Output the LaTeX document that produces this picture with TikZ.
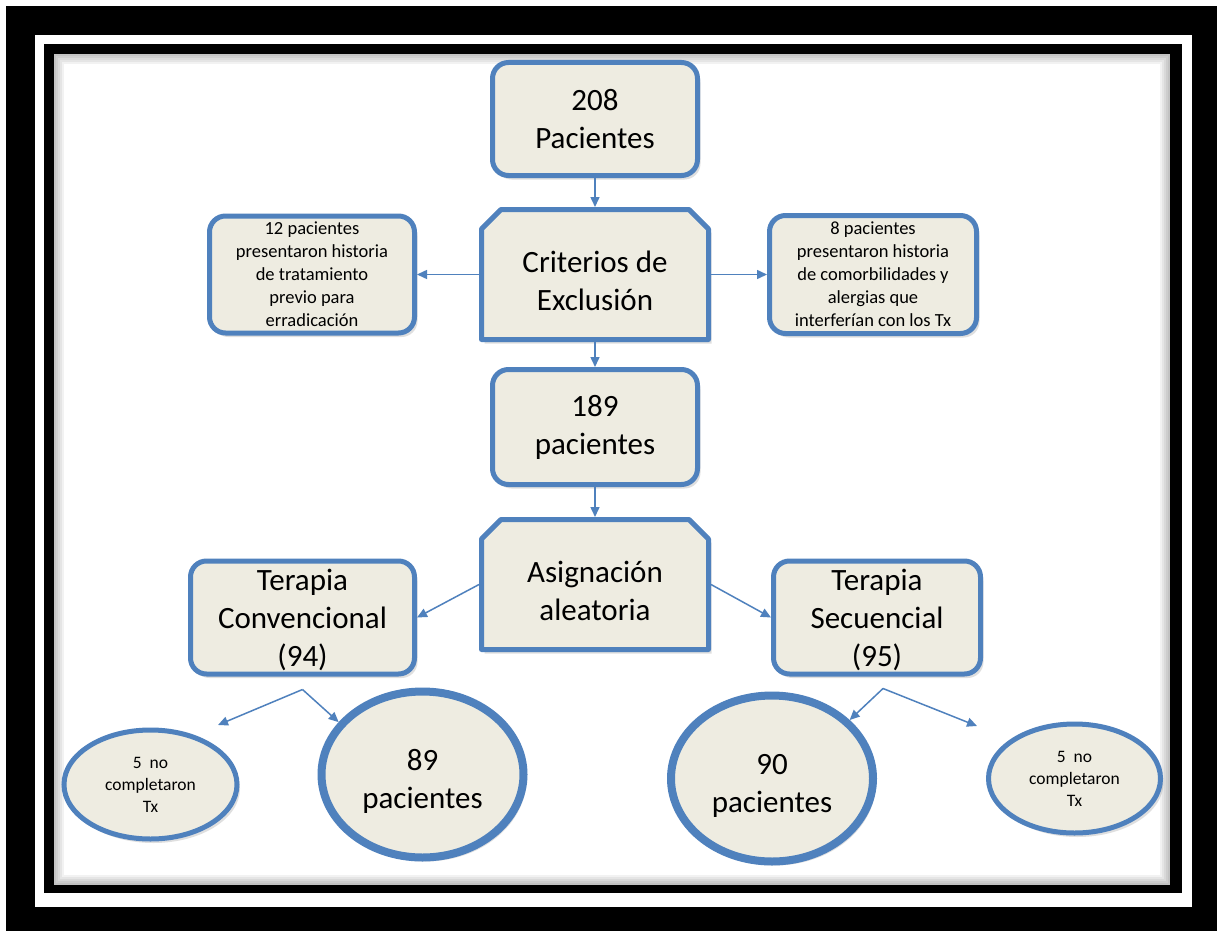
\documentclass[tikz,border=0pt]{standalone}
\usepackage{fontspec}
\setmainfont{Carlito}
\usetikzlibrary{arrows.meta,positioning,shapes.geometric,shadows}
\definecolor{flowblue}{RGB}{79,129,189}
\definecolor{flowcream}{RGB}{238,236,225}
\pgfdeclarelayer{frame}
\pgfdeclarelayer{back}
\pgfsetlayers{frame,back,main}
\tikzset{
  pbox/.style={rectangle, rounded corners=16pt, draw=flowblue, line width=5pt, fill=flowcream,
               align=center, font=\fontsize{31}{38}\selectfont, inner sep=2pt,
               drop shadow={shadow xshift=3pt, shadow yshift=-4pt, opacity=.25}},
  nbox/.style={pbox, font=\fontsize{18.5}{23}\selectfont},
  ctext/.style={rectangle, align=center, font=\fontsize{31}{38}\selectfont, inner sep=2pt,
                outer sep=0pt, minimum width=232pt, minimum height=135pt},
  cline/.style={draw=flowblue, line width=5pt, fill=flowcream, line join=round,
                drop shadow={shadow xshift=3pt, shadow yshift=-4pt, opacity=.25}},
  pell/.style={ellipse, draw=flowblue, line width=8pt, fill=flowcream, align=center,
               font=\fontsize{31}{38}\selectfont, inner sep=1pt,
               drop shadow={shadow xshift=3pt, shadow yshift=-4pt, opacity=.25}},
  sell/.style={pell, line width=5pt, font=\fontsize{17.5}{22}\selectfont},
  farr/.style={-{Triangle[length=10pt,width=9pt]}, line width=1.5pt, flowblue},
}
% snipped top corners round a text node
\newcommand\snipbox[1]{%
  \path[cline] ([shift={(2.5,22)}]#1.north west) -- ([shift={(22,2.5)}]#1.north west)
    -- ([shift={(-22,2.5)}]#1.north east) -- ([shift={(-2.5,22)}]#1.north east)
    -- ([shift={(-2.5,-2.5)}]#1.south east) -- ([shift={(2.5,-2.5)}]#1.south west) -- cycle;}
\begin{document}
\begin{tikzpicture}[x=1pt,y=-1pt]
  \useasboundingbox (0,0) rectangle (1217,931);
  % frame
  \begin{pgfonlayer}{frame}
  \fill[white] (0,0) rectangle (1217,931);
  \fill[black] (6,6) rectangle (1217,931);
  \fill[white] (35,35) rectangle (1192,907);
  \fill[black] (44,44) rectangle (1182,893);
  \fill[white] (54,54) rectangle (1170,885);
  \begin{scope}
    \clip (54,54) rectangle (1170,885);
    \foreach \w in {4,8,12,16,20}{\draw[black,opacity=.05,line width=\w pt] (54,54) rectangle (1170,885);}
  \end{scope}
  \end{pgfonlayer}
  % main column
  \node[pbox,minimum width=205pt,minimum height=113pt] (p208) at (595,119) {208\\Pacientes};
  \node[ctext,below=29pt of p208] (excl) {\rule{0pt}{35pt}Criterios de\\Exclusión};
  \node[nbox,minimum width=205pt,minimum height=117pt,left=62pt of excl] (x12) {12 pacientes\\presentaron historia\\de tratamiento\\previo para\\erradicación};
  \node[nbox,minimum width=207pt,minimum height=118pt,right=56pt of excl] (x8) {8 pacientes\\presentaron historia\\de comorbilidades y\\alergias que\\interferían con los Tx};
  \node[pbox,minimum width=205pt,minimum height=115pt,below=25pt of excl] (p189) {189\\pacientes};
  \node[ctext,below=30pt of p189] (asig) {\rule{0pt}{35pt}Asignación\\aleatoria};
  \node[pbox,minimum width=224pt,minimum height=113pt,left=62pt of asig,yshift=-33pt] (conv) {\rule{0pt}{26pt}Terapia\\Convencional\\(94)};
  \node[pbox,minimum width=207pt,minimum height=113pt,right=60pt of asig,yshift=-33pt] (sec) {\rule{0pt}{26pt}Terapia\\Secuencial\\(95)};
  \begin{pgfonlayer}{back}
    \snipbox{excl}\snipbox{asig}
  \end{pgfonlayer}
  % outcomes
  \node[pell,minimum width=202pt,minimum height=166pt,below=11pt of conv,xshift=120pt] (e89) {\rule{0pt}{34pt}89\\pacientes};
  \node[sell,minimum width=173pt,minimum height=109pt,left=78pt of e89,yshift=-10pt] (e5l) {5\ \ no\\completaron\\Tx};
  \node[pell,minimum width=202pt,minimum height=166pt,below=15pt of sec,xshift=-105pt] (e90) {\rule{0pt}{34pt}90\\pacientes};
  \node[sell,minimum width=172pt,minimum height=109pt,right=109pt of e90] (e5r) {5\ \ no\\completaron\\Tx};
  \coordinate[below=13pt of conv.south] (cs);
  \coordinate[below=12pt of sec.south,xshift=6pt] (ss);
  \coordinate (cstip) at (218,725);
  \coordinate (sstip) at (977,726);
  % connectors
  \draw[farr] (p208)--(excl);\draw[farr] (excl)--(x12);\draw[farr] (excl)--(x8);
  \draw[farr] (excl)--(p189);\draw[farr] (p189)--(asig);
  \draw[farr] (asig.west)--(conv.east);\draw[farr] (asig.east)--(sec.west);
  \draw[farr] (cs)--(cstip);\draw[farr] (cs)--(e89.148);
  \draw[farr] (ss)--(e90.37);\draw[farr] (ss)--(sstip);
\end{tikzpicture}
\end{document}
